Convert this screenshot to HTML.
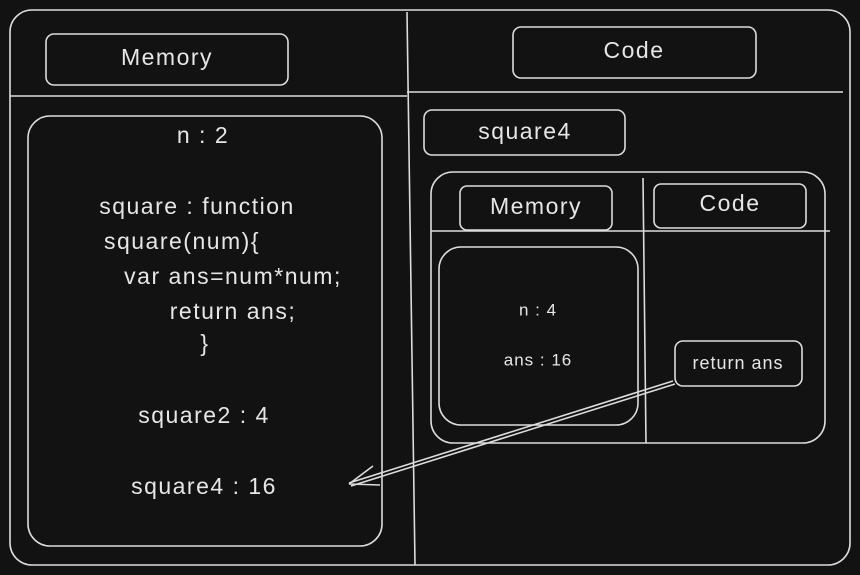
<!DOCTYPE html>
<html><head><meta charset="utf-8"><style>
html,body{margin:0;padding:0;background:#121212;}
svg{display:block}
text{font-family:"Liberation Sans",sans-serif;fill:#e6e6e6;text-anchor:middle;dominant-baseline:middle}
</style></head><body>
<svg width="860" height="575" viewBox="0 0 860 575" xmlns="http://www.w3.org/2000/svg">
<rect width="860" height="575" fill="#121212"/>
<g fill="none" stroke="#dcdcdc" stroke-width="1.6">
<rect x="10" y="10" width="840" height="555" rx="22"/>
<path d="M407 12 L415 565"/>
<path d="M10 96 L407 96 M407 92 L843 92"/>
<rect x="46" y="34" width="242" height="51" rx="8"/>
<rect x="513" y="27" width="243" height="51" rx="8"/>
<rect x="28" y="116" width="354" height="430" rx="22"/>
<rect x="424" y="110" width="201" height="45" rx="8"/>
<rect x="431" y="172" width="394" height="271" rx="22"/>
<path d="M643 178 L646 443"/>
<path d="M431 231 L830 231"/>
<rect x="460" y="186" width="152" height="44" rx="7"/>
<rect x="654" y="184" width="152" height="44" rx="7"/>
<rect x="439" y="247" width="199" height="178" rx="22"/>
<rect x="675" y="341" width="127" height="45" rx="8"/>
<path d="M673 381 L349 483"/>
<path d="M675 384 L351 486"/>
<path d="M349 484 L373 466 M349 484 L380 485"/>
</g>
<g font-size="23" letter-spacing="1.5">
<text x="167" y="59">Memory</text>
<text x="634" y="52">Code</text>
<text x="203" y="137">n : 2</text>
<text x="197" y="208">square : function</text>
<text x="182" y="243">square(num){</text>
<text x="233" y="278">var ans=num*num;</text>
<text x="233" y="313">return ans;</text>
<text x="205" y="345">}</text>
<text x="204" y="417">square2 : 4</text>
<text x="204" y="488">square4 : 16</text>
<text x="525" y="133">square4</text>
<text x="536" y="208">Memory</text>
<text x="730" y="205">Code</text>
</g>
<text x="538" y="311" font-size="17" letter-spacing="1">n : 4</text>
<text x="538" y="361" font-size="17" letter-spacing="1">ans : 16</text>
<text x="738" y="364" font-size="18" letter-spacing="1">return ans</text>
</svg>
</body></html>
